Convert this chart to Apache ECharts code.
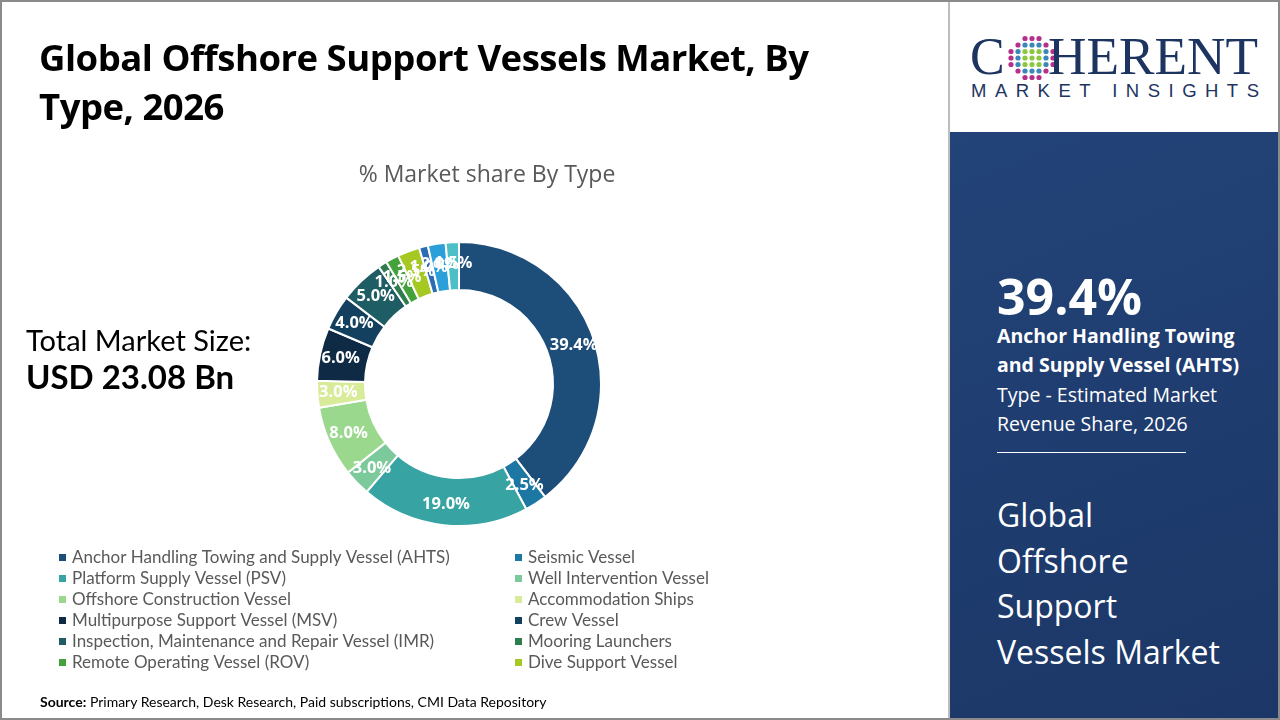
<!DOCTYPE html>
<html>
<head>
<meta charset="utf-8">
<script src="https://cdn.jsdelivr.net/npm/echarts@6/dist/echarts.min.js"></script>
<style>
  html, body { margin:0; padding:0; width:1280px; height:720px; overflow:hidden; background:#fff; font-family:"Open Sans", Lato, sans-serif; }
  #frame { position:absolute; left:0; top:0; width:1276px; height:716px; border:2px solid #8a8a8a; box-sizing:content-box; }
  #chart { position:absolute; left:0; top:0; width:948px; height:720px; }
  #sep { position:absolute; left:948px; top:0; width:2px; height:720px; background:#bdbdbd; }
  #title { position:absolute; left:39px; top:33px; width:900px; font-family:"Open Sans", sans-serif; font-weight:700; font-size:36.5px; line-height:49px; color:#000; letter-spacing:-0.5px; }
  #tms1 { position:absolute; left:26px; top:322px; font-family:Lato, sans-serif; font-size:29px; color:#000; }
  #tms2 { position:absolute; left:26px; top:356px; font-family:Lato, sans-serif; font-weight:700; font-size:33px; color:#000; }
  #source { position:absolute; left:40px; top:693px; font-family:Lato, sans-serif; font-size:14px; color:#000; }
  #logo { position:absolute; left:950px; top:2px; width:328px; height:130px; background:#fff; }
  #panel { position:absolute; left:950px; top:132px; width:330px; height:588px; background:linear-gradient(160deg,#234479 0%,#1f3d70 45%,#1c3767 100%); color:#fff; font-family:"Open Sans", sans-serif; }
  .big { position:absolute; left:47px; top:136px; font-size:50px; font-weight:700; line-height:56px; }
  .b2 { position:absolute; left:47px; top:189px; font-size:19.5px; font-weight:700; line-height:29px; }
  .r2 { position:absolute; left:47px; top:248px; font-size:19.5px; line-height:29px; }
  .rule { position:absolute; left:47px; top:320px; width:189px; height:1px; background:#fff; }
  .mk { position:absolute; left:47px; top:360px; font-size:32px; line-height:45.5px; }
</style>
</head>
<body>
<div id="chart"></div>
<div id="sep"></div>
<div id="title">Global Offshore Support Vessels Market, By<br>Type, 2026</div>
<div id="tms1">Total Market Size:</div>
<div id="tms2">USD 23.08 Bn</div>
<div id="source"><b>Source:</b> Primary Research, Desk Research, Paid subscriptions, CMI Data Repository</div>
<div id="logo">
  <svg width="328" height="130" viewBox="0 0 328 130">
    <text x="20" y="72" font-family="Liberation Serif, DejaVu Serif, serif" font-size="52" fill="#1d3461">C</text>
    <g id="globe"></g>
    <text x="98" y="72" font-family="Liberation Serif, DejaVu Serif, serif" font-size="52" fill="#1d3461" textLength="210" lengthAdjust="spacingAndGlyphs">HERENT</text>
    <text x="21" y="95" font-family="Liberation Sans, sans-serif" font-size="18.5" fill="#1d3461" textLength="288" lengthAdjust="spacing">MARKET INSIGHTS</text>
  </svg>
</div>
<div id="panel">
  <div class="big">39.4%</div>
  <div class="b2">Anchor Handling Towing<br>and Supply Vessel (AHTS)</div>
  <div class="r2">Type - Estimated Market<br>Revenue Share, 2026</div>
  <div class="rule"></div>
  <div class="mk">Global<br>Offshore<br>Support<br>Vessels Market</div>
</div>
<div id="frame"></div>
<script>
// globe dots for logo
(function(){
  var g = document.getElementById('globe');
  var cx = 82, cy = 56, html = '';
  for (var i=-3;i<=3;i++) for (var j=-3;j<=3;j++) {
    var d = Math.sqrt(i*i+j*j);
    if (d > 3.4) continue;
    var col = d > 2.6 ? '#b5308a' : (d < 1.5 ? '#8dc63f' : '#3a87b8');
    html += '<circle cx="'+(cx+i*7)+'" cy="'+(cy+j*6.5)+'" r="2.6" fill="'+col+'"/>';
  }
  g.innerHTML = html;
})();

var categories = [
  "Anchor Handling Towing and Supply Vessel (AHTS)",
  "Seismic Vessel",
  "Platform Supply Vessel (PSV)",
  "Well Intervention Vessel",
  "Offshore Construction Vessel",
  "Accommodation Ships",
  "Multipurpose Support Vessel (MSV)",
  "Crew Vessel",
  "Inspection, Maintenance and Repair Vessel (IMR)",
  "Mooring Launchers",
  "Remote Operating Vessel (ROV)",
  "Dive Support Vessel",
  "Standby and Rescue Vessel",
  "Chase Vessel",
  "Others"
];
var shares = [39.4, 2.5, 19.0, 3.0, 8.0, 3.0, 6.0, 4.0, 5.0, 1.0, 1.5, 2.5, 1.0, 2.0, 1.5];
var colors = ["#1d4e79", "#1c77a3", "#37a3a2", "#7cc99c", "#9ad98d", "#d8eb98", "#0f2a45", "#12405e", "#1e5d63", "#2f7d4e", "#45a23a", "#a6c823", "#2a6db2", "#2b9fd9", "#4cc0c6"];
var leftLegend = categories.filter(function(_, i){ return i < 12 && i % 2 === 0; });
var rightLegend = categories.filter(function(_, i){ return i < 12 && i % 2 === 1; });

var chart = echarts.init(document.getElementById('chart'));
var legendCommon = {
  orient: 'vertical', icon: 'rect', itemWidth: 9, itemHeight: 9, itemGap: 4,
  textStyle: { fontFamily: 'Lato, sans-serif', fontSize: 17, color: '#595959' },
  selectedMode: false
};
chart.setOption({
  color: colors,
  animation: false,
  title: {
    text: '% Market share By Type', left: 482, top: 159, textAlign: 'center',
    textStyle: { fontFamily: '"Open Sans", sans-serif', fontWeight: 'normal', fontSize: 23, color: '#595959' }
  },
  legend: [
    Object.assign({ data: leftLegend, left: 52, top: 544 }, legendCommon),
    Object.assign({ data: rightLegend, left: 508, top: 544 }, legendCommon)
  ],
  series: [{
    type: 'pie',
    center: [459, 384],
    radius: [94, 142],
    startAngle: 90,
    clockwise: true,
    avoidLabelOverlap: false,
    minShowLabelAngle: 0,
    labelLayout: { hideOverlap: false },
    itemStyle: { borderColor: '#fff', borderWidth: 2 },
    label: {
      show: true, position: 'inside', color: '#fff',
      fontFamily: '"Open Sans", sans-serif', fontWeight: 'bold', fontSize: 16.5,
      formatter: function(p){ return p.value.toFixed(1) + '%'; }
    },
    labelLine: { show: false },
    emphasis: { disabled: true },
    data: categories.map(function(c, i){ return { name: c, value: shares[i] }; })
  }]
});
</script>
</body>
</html>
